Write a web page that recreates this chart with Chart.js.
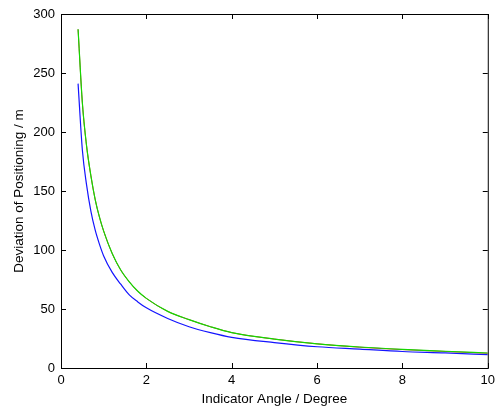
<!DOCTYPE html>
<html>
<head>
<meta charset="utf-8">
<script src="https://cdn.jsdelivr.net/npm/chart.js@4/dist/chart.umd.min.js"></script>
<style>
  body { margin: 0; background: #fff; }
  #grafico { display: block; }
</style>
</head>
<body>
<canvas id="grafico" width="500" height="408"></canvas>
<script>
// angles (degree) where the curves were read
const angulos = [0.4, 0.5, 0.6, 0.7, 0.8, 0.9, 1.0, 1.2, 1.4, 1.6, 1.8, 2.0, 2.5, 3.0, 3.5, 4.0, 5.0, 6.0, 7.0, 8.0, 9.0, 10.0]
const desvioVerde = [287, 225, 188, 163, 143, 128, 116, 97, 83, 73, 65, 59, 48, 41, 35, 30, 24.5, 20.5, 17.8, 15.8, 14.2, 12.7]
const desvioRojo = [287, 225, 188, 163, 143, 128, 116, 97, 83, 73, 65, 59, 48, 41, 35, 30, 24.5, 20.5, 17.6, 15.6, 14.0, 12.5]
const desvioAzul = [241, 185, 155, 133, 117, 105, 95, 81, 71, 62, 56, 51, 42, 35, 30, 26, 21.5, 18, 16, 14, 12.8, 11.3]

const xTicks = [0, 2, 4, 6, 8, 10]
const yTicks = [0, 50, 100, 150, 200, 250, 300]

const puntos = (ys) => angulos.map((x, i) => ({ x: x, y: ys[i] }))

// black box with inward ticks on all four sides (matlab look)
const marco = {
    id: "marco",
    afterDraw(chart) {
        const { ctx, chartArea: a, scales } = chart
        ctx.save()
        ctx.strokeStyle = "#000"
        ctx.lineWidth = 1
        ctx.strokeRect(a.left + 0.5, a.top + 0.5, a.right - a.left, a.bottom - a.top)
        const largo = 5
        ctx.beginPath()
        xTicks.forEach((v) => {
            const px = Math.round(scales.x.getPixelForValue(v)) + 0.5
            ctx.moveTo(px, a.bottom); ctx.lineTo(px, a.bottom - largo)
            ctx.moveTo(px, a.top); ctx.lineTo(px, a.top + largo)
        })
        yTicks.forEach((v) => {
            const py = Math.round(scales.y.getPixelForValue(v)) + 0.5
            ctx.moveTo(a.left, py); ctx.lineTo(a.left + largo, py)
            ctx.moveTo(a.right, py); ctx.lineTo(a.right - largo, py)
        })
        ctx.stroke()
        ctx.restore()
    }
}

const fuente = { family: "'Liberation Sans', Arial, sans-serif", size: 13 }
const fuenteTitulo = { family: "'Liberation Sans', Arial, sans-serif", size: 13.5 }

const config = {
    type: "line",
    data: {
        datasets: [
            { data: puntos(desvioVerde), borderColor: "rgb(20,215,0)", borderWidth: 1.2 },
            { data: puntos(desvioRojo), borderColor: "rgb(200,60,40)", borderWidth: 1 },
            { data: puntos(desvioAzul), borderColor: "rgb(20,20,255)", borderWidth: 1.2 }
        ]
    },
    options: {
        responsive: false,
        animation: false,
        events: [],
        layout: { padding: { top: 14, right: 10, left: 0, bottom: 0 } },
        elements: { point: { radius: 0 }, line: { tension: 0.3, cubicInterpolationMode: "monotone" } },
        plugins: { legend: { display: false }, tooltip: { enabled: false } },
        scales: {
            x: {
                type: "linear", min: 0, max: 10,
                grid: { display: false, drawTicks: false },
                border: { display: false },
                afterBuildTicks: (s) => { s.ticks = xTicks.map((v) => ({ value: v })) },
                afterFit: (s) => { s.height = 40 },
                ticks: { color: "#000", font: fuente, padding: 5, maxRotation: 0 },
                title: { display: true, text: "Indicator Angle / Degree", color: "#000", font: fuenteTitulo, padding: { top: 0, bottom: 1 } }
            },
            y: {
                min: 0, max: 300,
                grid: { display: false, drawTicks: false },
                border: { display: false },
                afterBuildTicks: (s) => { s.ticks = yTicks.map((v) => ({ value: v })) },
                afterFit: (s) => { s.width = 61 },
                ticks: { color: "#000", font: fuente, padding: 6 },
                title: { display: true, text: "Deviation of Positioning / m", color: "#000", font: fuenteTitulo, padding: { top: 11, bottom: 0 } }
            }
        }
    },
    plugins: [marco]
}

new Chart(document.getElementById("grafico"), config)
</script>
</body>
</html>
